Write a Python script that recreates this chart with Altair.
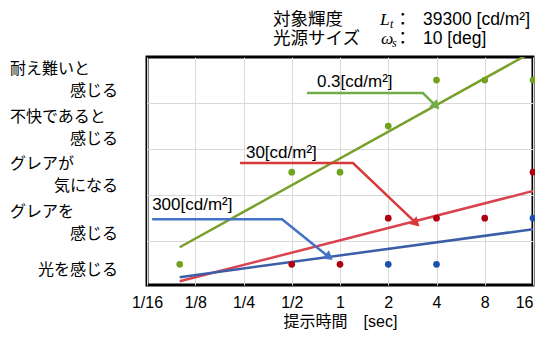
import altair as alt
import pandas as pd

# ---------------- data ----------------
levels = [1, 2, 3, 4, 5]
label_top = ["", "グレアを", "グレアが", "不快であると", "耐え難いと"]
label_bottom = ["光を感じる", "感じる", "気になる", "感じる", "感じる"]

x_ticks = [1/16, 1/8, 1/4, 1/2, 1, 2, 4, 8, 16]

green_t = [0.1, 0.5, 1, 2, 4, 8, 16]
green_v = [1, 3, 3, 4, 5, 5, 5]
red_t = [0.5, 1, 2, 4, 8, 16]
red_v = [1, 1, 2, 2, 2, 3]
blue_t = [2, 4, 16]
blue_v = [1, 1, 2]

trend_t = [0.1, 16]
green_fit = [1.37, 5.62]
red_fit = [0.63, 2.59]
blue_fit = [0.72, 1.76]

green_ann_t = [0.622, 3.29, 3.92]
green_ann_v = [4.717, 4.717, 4.457]
red_ann_t = [0.238, 1.205, 2.94]
red_ann_v = [3.196, 3.196, 1.913]
blue_ann_t = [0.0673, 0.435, 0.841]
blue_ann_v = [1.978, 1.978, 1.174]

ann_labels = ["0.3[cd/m²]", "30[cd/m²]", "300[cd/m²]"]
ann_label_t = [0.718, 0.259, 0.0673]
ann_label_v = [4.957, 3.413, 2.283]

# ---------------- styles ----------------
LATIN = '"Liberation Sans", "Noto Sans CJK JP", sans-serif'
CJK = '"Noto Sans CJK JP", sans-serif'
SERIF = '"Liberation Serif", serif'

xs = alt.Scale(type="log", base=2, domain=[1/16, 16], nice=False)
ys = alt.Scale(domain=[0.55, 5.5], nice=False, zero=False)

x_axis = alt.Axis(
    values=x_ticks,
    labelExpr="datum.value < 1 ? '1/' + round(1/datum.value) : '' + round(datum.value)",
    ticks=False, domain=False, grid=True, gridColor="#d9d9d9", gridWidth=1,
    labelFontSize=16, labelColor="black", labelFont=LATIN, labelPadding=9,
    labelFlush=False, labelOverlap=False, labelBound=False,
    labelAlign={"condition": {"test": "datum.value >= 16", "value": "right"}, "value": "center"},
    title="提示時間　[sec]", titleFontSize=16, titleFont=LATIN,
    titleFontWeight="normal", titleColor="black", titlePadding=3,
)
y_axis = alt.Axis(
    values=[1.5, 2.5, 3.5, 4.5], labels=False, ticks=False, domain=False,
    grid=True, gridColor="#d9d9d9", gridWidth=1, title=None,
)


def X(field="t"):
    return alt.X(f"{field}:Q", scale=xs, axis=x_axis)


def Y(field="v"):
    return alt.Y(f"{field}:Q", scale=ys, axis=y_axis)


one = alt.Data(values=[{}])

layers = []

# trend lines
fits = [
    (green_fit, "#7aa02c"),
    (red_fit, "#d9434f"),
    (blue_fit, "#3a5ea8"),
]
for fit, col in fits:
    df = pd.DataFrame({"t": trend_t, "v": fit})
    layers.append(
        alt.Chart(df).mark_line(color=col, strokeWidth=2.5, clip=True).encode(x=X(), y=Y())
    )

# points (blue, red, green order)
pts = [
    (blue_t, blue_v, "#1a50ae"),
    (red_t, red_v, "#b00010"),
    (green_t, green_v, "#6fa21e"),
]
for t, v, col in pts:
    df = pd.DataFrame({"t": t, "v": v})
    layers.append(
        alt.Chart(df).mark_circle(color=col, size=45, opacity=1).encode(x=X(), y=Y())
    )

# annotation callouts
anns = [
    (green_ann_t, green_ann_v, "#70ad47", 135),
    (red_ann_t, red_ann_v, "#d83a3a", 134),
    (blue_ann_t, blue_ann_v, "#4472c4", 129),
]
for t, v, col, ang in anns:
    df = pd.DataFrame({"t": t, "v": v, "o": list(range(len(t)))})
    layers.append(
        alt.Chart(df).mark_line(color=col, strokeWidth=2.5).encode(
            x=X(), y=Y(), order="o:Q"
        )
    )
    tip = pd.DataFrame({"t": t[-1:], "v": v[-1:]})
    layers.append(
        alt.Chart(tip).mark_point(shape="triangle", filled=True, color=col, size=110,
                                  angle=ang, opacity=1).encode(x=X(), y=Y())
    )

ann_df = pd.DataFrame({"t": ann_label_t, "v": ann_label_v, "s": ann_labels})
layers.append(
    alt.Chart(ann_df).mark_text(align="left", baseline="middle", fontSize=17,
                                font=LATIN, color="black").encode(x=X(), y=Y(), text="s:N")
)

# y category labels (two lines)
lab_df = pd.DataFrame({"level": levels, "top": label_top, "bottom": label_bottom})
base_lab = alt.Chart(lab_df).transform_calculate(
    ly="datum.level - 0.033*(5 - datum.level)"
).transform_calculate(
    ytop="datum.ly + 0.24",
    ybot="datum.top == '' ? datum.ly : datum.ly - 0.24",
)
layers.append(
    base_lab.mark_text(align="left", baseline="middle", fontSize=16, font=CJK,
                       color="black").encode(x=alt.value(-137), y=Y("ytop"), text="top:N")
)
layers.append(
    base_lab.mark_text(align="right", baseline="middle", fontSize=16, font=CJK,
                       color="black").encode(x=alt.value(-29), y=Y("ybot"), text="bottom:N")
)


# header text
def htext(s, x, y, font=LATIN, size=17.5, style="normal", align="left"):
    return alt.Chart(one).mark_text(
        align=align, baseline="middle", fontSize=size, font=font,
        fontStyle=style, color="black"
    ).encode(x=alt.value(x), y=alt.value(y), text=alt.value(s))


layers += [
    htext("対象輝度", 126, -37, font=CJK),
    htext("L", 233, -37, font=SERIF, style="italic"),
    htext("t", 243, -33, font=SERIF, style="italic", size=12),
    htext("：", 247, -37, font=CJK),
    htext("39300 [cd/m²]", 276, -37),
    htext("光源サイズ", 126, -18, font=CJK),
    htext("ω", 234, -18, font=SERIF, style="italic"),
    htext("s", 245, -14, font=SERIF, style="italic", size=12),
    htext("：", 247, -18, font=CJK),
    htext("10 [deg]", 276, -18),
]

chart = alt.layer(*layers).properties(
    width=386, height=228,
    autosize=alt.AutoSizeParams(type="none"),
    padding={"left": 139, "top": 49, "right": 2, "bottom": 45},
    background="white",
).configure_view(stroke="black", strokeWidth=3)

chart.save("out.html", embed_options={"renderer": "svg", "actions": False})
